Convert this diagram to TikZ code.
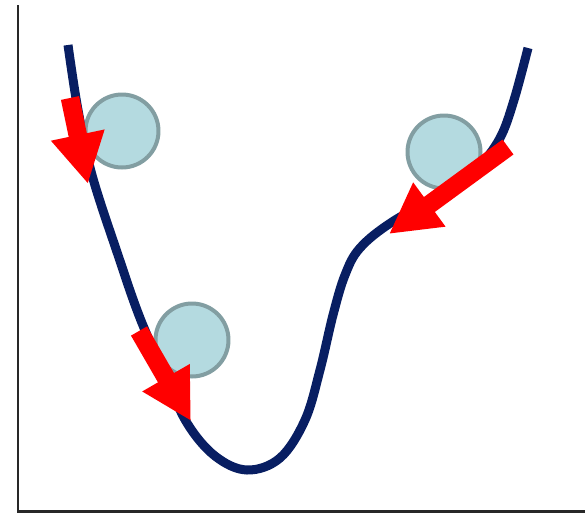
\documentclass[tikz,border=0pt]{standalone}
\usepackage{tikz}
\usetikzlibrary{arrows.meta}
\definecolor{cNavy}{RGB}{8,30,98}
\definecolor{cBall}{RGB}{180,218,224}
\definecolor{cRim}{RGB}{130,158,162}
\definecolor{cAxis}{RGB}{40,40,40}
\definecolor{cPush}{RGB}{255,0,0}
\tikzset{
	axisline/.style ={line width=0.06cm, draw=cAxis},
	valley/.style   ={line width=0.18cm, draw=cNavy, line cap=butt},
	ball/.style     ={circle, minimum size=1.46cm, inner sep=0pt, draw=cRim, fill=cBall, line width=0.08cm},
	push/.style     ={-{Triangle[length=1cm, width=1.02cm]}, line width=0.37cm, draw=cPush, color=cPush},
}

\begin{document}
\begin{tikzpicture}[x=0.02cm, y=-0.02cm]
	\useasboundingbox (0,0) rectangle (585,518);
	% ---------- axes ----------
	\coordinate (top) at (18,5);
	\coordinate (origin) at (18,511);
	\coordinate (right) at (585,511);
	\draw[axisline] (top) -- (origin) -- (right);
	% ---------- energy curve ----------
	\draw[valley] plot[smooth, tension=0.6] coordinates {
		(68,45) (78,110) (92,175) (118,255) (140,318) (165,375) (187,423)
		(215,456) (247,470) (280,458) (305,420) (320,370) (333,315)
		(345,275) (360,248) (392,222) (445,192) (478,167) (500,138)
		(514,100) (528,48)};
	% ---------- balls ----------
	\node[ball] (ballA) at (122,131) {};
	\node[ball] (ballB) at (192,340) {};
	\node[ball] (ballC) at (444,152) {};
	% ---------- pushes ----------
	\draw[push] (70,98) -- (88,184);
	\draw[push] (139,331) -- (191,421);
	\draw[push] (508,147) -- (389,234);
\end{tikzpicture}
\end{document}
